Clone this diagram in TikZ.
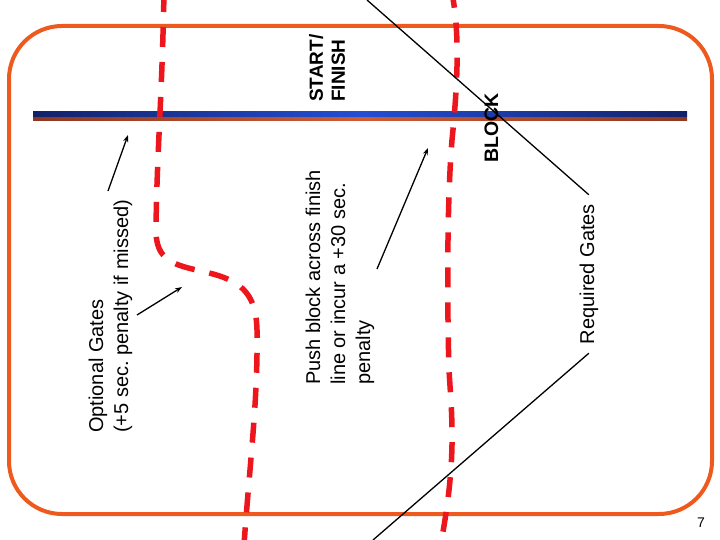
\documentclass[tikz,border=0pt]{standalone}
\usepackage{fontspec}
\setmainfont{Liberation Sans}
\usetikzlibrary{arrows.meta}
\frenchspacing
\definecolor{frameor}{RGB}{238,90,30}
\definecolor{gatered}{RGB}{236,22,28}
\definecolor{navyl}{RGB}{18,34,105}
\definecolor{brightb}{RGB}{35,78,212}
\definecolor{brownl}{RGB}{140,55,35}
\definecolor{brownm}{RGB}{205,92,52}
\begin{document}
\begin{tikzpicture}[x=1pt,y=-1pt,
  frame/.style={draw=frameor,line width=4pt,rounded corners=53pt},
  gate/.style={draw=gatered,line width=5.5pt,dash pattern=on 20pt off 15pt},
  pointer/.style={draw=black,line width=1.3pt,-{Stealth[length=7pt,width=5pt]}},
  leader/.style={draw=black,line width=1.3pt},
  lbl/.style={rotate=90,inner sep=0pt,align=left,font=\fontsize{20}{25}\selectfont},
  boldlbl/.style={rotate=90,inner sep=0pt,align=left,font=\bfseries\fontsize{19}{22}\selectfont}
]
\useasboundingbox (0,0) rectangle (720,540);
% frame
\draw[frame] (9,26) rectangle (712,514);
% start / finish line
\shade[left color=navyl,right color=navyl,middle color=brightb] (33,112) rectangle (687,116.5);
\shade[left color=brownl,right color=brownl,middle color=brownm] (33,118) rectangle (687,120.5);
% gates (red dashed)
\draw[gate] (164,-8) .. controls (162,100) and (157,150) .. (156,228)
  .. controls (155,262) and (175,265) .. (205,272)
  .. controls (240,280) and (256,292) .. (257,330)
  .. controls (258,400) and (250,460) .. (244,545);
\draw[gate] (451,-12) .. controls (460,30) and (458,80) .. (452,140)
  .. controls (447,200) and (447,300) .. (449,370)
  .. controls (452,420) and (457,460) .. (440,548);
% labels
\node[lbl,anchor=north west] (opt) at (88.5,433) {Optional Gates\\(+5 sec. penalty if missed)};
\node[lbl,anchor=north west] (push) at (305.5,385) {Push block across finish\\line or incur a +30 sec.\\penalty};
\node[boldlbl,anchor=north west] (start) at (309,102) {START/\\FINISH};
\node[rotate=90,inner sep=0pt,font=\bfseries\fontsize{19.5}{23}\selectfont,anchor=base west] (block) at (498,163) {BLOCK};
\node[rotate=90,inner xsep=9pt,inner ysep=0pt,font=\fontsize{20}{25}\selectfont,anchor=base] (req) at (594,274) {Required Gates};
\node[font=\fontsize{14}{16}\selectfont] (pg) at (701,523) {7};
% leader lines of "Required Gates"
\coordinate (rtop) at (367,0);
\coordinate (rbot) at (373,540);
\draw[leader] (req.east) -- (rtop);
\draw[leader] (req.west) -- (rbot);
% pointers
\coordinate (p1s) at (108,191);
\coordinate (p1e) at (128,135);
\coordinate (p2s) at (137,315);
\coordinate (p2e) at (182,287);
\coordinate (p3s) at (377,269);
\coordinate (p3e) at (428,148);
\draw[pointer] (p1s) -- (p1e);
\draw[pointer] (p2s) -- (p2e);
\draw[pointer] (p3s) -- (p3e);
\end{tikzpicture}
\end{document}
